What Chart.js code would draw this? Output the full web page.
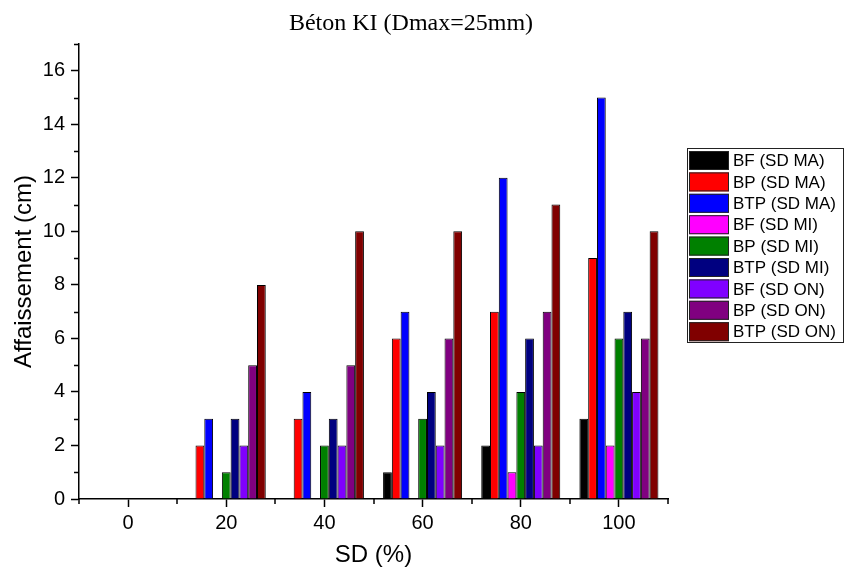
<!DOCTYPE html>
<html>
<head>
<meta charset="utf-8">
<script src="https://cdn.jsdelivr.net/npm/chart.js@4"></script>
<style>
  html, body { margin: 0; padding: 0; background: #fff; }
  #wrap { width: 845px; height: 571px; }
</style>
</head>
<body>
<div id="wrap"><canvas id="slumpChart" width="845" height="571"></canvas></div>
<script>
// SD dosage (%) on x, slump (cm) on y
const sdLevels = ['0', '20', '40', '60', '80', '100'];
const seriesNames = [
    'BF (SD MA)', 'BP (SD MA)', 'BTP (SD MA)',
    'BF (SD MI)', 'BP (SD MI)', 'BTP (SD MI)',
    'BF (SD ON)', 'BP (SD ON)', 'BTP (SD ON)'
];
const bfMA  = [0, 0, 0, 1, 2, 3];
const bpMA  = [0, 2, 3, 6, 7, 9];
const btpMA = [0, 3, 4, 7, 12, 15];
const bfMI  = [0, 0, 0, 0, 1, 2];
const bpMI  = [0, 1, 2, 3, 4, 6];
const btpMI = [0, 3, 3, 4, 6, 7];
const bfON  = [0, 2, 2, 2, 2, 4];
const bpON  = [0, 5, 5, 6, 7, 6];
const btpON = [0, 8, 10, 10, 11, 10];
const yTicks = [0, 2, 4, 6, 8, 10, 12, 14, 16];

const seriesValues = [bfMA, bpMA, btpMA, bfMI, bpMI, btpMI, bfON, bpON, btpON];
const seriesColors = ['#000000', '#ff0000', '#0000ff', '#ff00ff', '#008000',
                      '#000080', '#8000ff', '#800080', '#800000'];

const sans = '"Liberation Sans", Arial, sans-serif';

// small ticks between the labelled ones, Origin style
const minorTicks = {
    id: 'minorTicks',
    afterDraw(chart) {
        const ctx = chart.ctx;
        const xs = chart.scales.x, ys = chart.scales.y;
        ctx.save();
        ctx.strokeStyle = '#000';
        ctx.lineWidth = 1.5;
        ctx.beginPath();
        for (let v = 1; v <= ys.max; v += 2) {
            const y = Math.round(ys.getPixelForValue(v)) + 0.5;
            ctx.moveTo(ys.right - 5, y);
            ctx.lineTo(ys.right, y);
        }
        for (let i = 0; i <= sdLevels.length; i++) {
            const x = Math.round(xs.getPixelForValue(i - 0.5));
            ctx.moveTo(x, xs.top);
            ctx.lineTo(x, xs.top + 5);
        }
        ctx.stroke();
        ctx.restore();
    }
};

// serif title above the plot
const plotTitle = {
    id: 'plotTitle',
    afterDraw(chart) {
        const ctx = chart.ctx;
        ctx.save();
        ctx.fillStyle = '#000';
        ctx.font = '24px "Liberation Serif", "Times New Roman", serif';
        ctx.textAlign = 'center';
        ctx.textBaseline = 'middle';
        ctx.fillText('Béton KI (Dmax=25mm)', 411, 24);
        ctx.restore();
    }
};

// boxed legend on the right
const boxLegend = {
    id: 'boxLegend',
    afterDraw(chart) {
        const ctx = chart.ctx;
        const x0 = 687, y0 = 148, w = 156, h = 194, rowH = 21.4;
        ctx.save();
        ctx.strokeStyle = '#222';
        ctx.lineWidth = 1;
        ctx.strokeRect(x0 + 0.5, y0 + 0.5, w, h);
        ctx.font = '17px ' + sans;
        ctx.textBaseline = 'middle';
        chart.data.datasets.forEach((ds, i) => {
            const y = y0 + 3 + i * rowH;
            ctx.fillStyle = ds.backgroundColor;
            ctx.fillRect(x0 + 2, y, 40, 19);
            ctx.strokeStyle = '#222';
            ctx.strokeRect(x0 + 2.5, y + 0.5, 39, 18);
            ctx.fillStyle = '#000';
            ctx.fillText(ds.label, x0 + 46, y + 10.5);
        });
        ctx.restore();
    }
};

new Chart(document.getElementById('slumpChart'), {
    type: 'bar',
    data: {
        labels: sdLevels,
        datasets: seriesNames.map((name, i) => ({
            label: name,
            data: seriesValues[i],
            backgroundColor: seriesColors[i],
            borderColor: '#000',
            borderWidth: 1,
            categoryPercentage: 0.805,
            barPercentage: 1.0
        }))
    },
    options: {
        responsive: false,
        animation: false,
        layout: { padding: { top: 44, right: 177, left: 0, bottom: 0 } },
        plugins: {
            legend: { display: false },
            tooltip: { enabled: false }
        },
        scales: {
            x: {
                offset: true,
                afterFit(scale) { scale.height = 72; },
                grid: {
                    offset: false,
                    drawOnChartArea: false,
                    drawTicks: true,
                    tickLength: 8,
                    tickColor: '#000',
                    tickWidth: 1.5
                },
                border: { display: true, color: '#000', width: 1.5 },
                ticks: { color: '#000', font: { family: sans, size: 20 }, padding: 4 },
                title: {
                    display: true,
                    text: 'SD (%)',
                    color: '#000',
                    font: { family: sans, size: 24 },
                    padding: { top: 0, bottom: 1 }
                }
            },
            y: {
                min: 0,
                max: 17,
                afterFit(scale) { scale.width = 79; },
                afterBuildTicks(scale) { scale.ticks = yTicks.map(v => ({ value: v })); },
                grid: {
                    drawOnChartArea: false,
                    drawTicks: true,
                    tickLength: 8,
                    tickColor: '#000',
                    tickWidth: 1.5
                },
                border: { display: true, color: '#000', width: 1.5 },
                ticks: { color: '#000', font: { family: sans, size: 20 }, padding: 6 },
                title: {
                    display: true,
                    text: 'Affaissement (cm)',
                    color: '#000',
                    font: { family: sans, size: 24 },
                    padding: { top: 10, bottom: 0 }
                }
            }
        }
    },
    plugins: [minorTicks, plotTitle, boxLegend]
});
</script>
</body>
</html>
